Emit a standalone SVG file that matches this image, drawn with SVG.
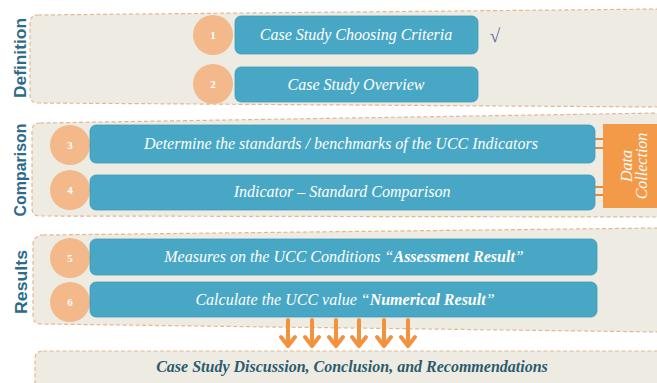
<svg xmlns="http://www.w3.org/2000/svg" width="657" height="383" viewBox="0 0 657 383">
<style>
.panel{fill:#EEEBE3;stroke:#E6B78E;stroke-width:1.2;stroke-dasharray:4 2.5}
.box{fill:#48A7C5;stroke:#3F9CBB;stroke-width:0.8}
.circ{fill:#F3B98B}
.num{font-family:"Liberation Serif",serif;font-weight:bold;font-size:11px;fill:#fff;text-anchor:middle}
.btxt{font-family:"Liberation Serif",serif;font-style:italic;font-size:16px;fill:#fff;text-anchor:middle}
.side{font-family:"Liberation Sans",sans-serif;font-weight:bold;font-size:17px;fill:#2D6B8C;text-anchor:middle}
.arrow{fill:none;stroke:#F2923F;stroke-width:4;stroke-linecap:round;stroke-linejoin:round}
.conn{stroke:#E58A3C;stroke-width:2}
</style>
<rect width="657" height="383" fill="#fff"/>
<g id="panels">
<path class="panel" d="M38,15 L660,9 L660,107 L38,103 Q30,103 30,95 L30,23 Q30,15 38,15 Z"/>
<path class="panel" d="M40,123 L660,113 L660,217 L40,216 Q32,216 32,208 L32,131 Q32,123 40,123 Z"/>
<path class="panel" d="M43,235 L660,228 L660,332 L41,324 Q33,324 33,316 L33,243 Q35,235 43,235 Z"/>
<path class="panel" d="M43,351 L660,351 L660,390 L35,390 L35,359 Q35,351 43,351 Z"/>
</g>
<g id="labels">
<text class="side" transform="translate(26,58) rotate(-90)" textLength="80" lengthAdjust="spacingAndGlyphs">Definition</text>
<text class="side" transform="translate(26,170) rotate(-90)" textLength="93" lengthAdjust="spacingAndGlyphs">Comparison</text>
<text class="side" transform="translate(27,282) rotate(-90)" textLength="64" lengthAdjust="spacingAndGlyphs">Results</text>
</g>
<g id="connectors">
<path class="arrow" d="M288,320 V345 M281,337 L288,346 L295,337"/>
<path class="arrow" d="M312,320 V345 M305,337 L312,346 L319,337"/>
<path class="arrow" d="M336,320 V345 M329,337 L336,346 L343,337"/>
<path class="arrow" d="M359,320 V345 M352,337 L359,346 L366,337"/>
<path class="arrow" d="M384,320 V345 M377,337 L384,346 L391,337"/>
<path class="arrow" d="M408,320 V345 M401,337 L408,346 L415,337"/>
<line class="conn" x1="594" y1="139" x2="604" y2="139"/>
<line class="conn" x1="594" y1="148" x2="604" y2="148"/>
<line class="conn" x1="594" y1="187" x2="604" y2="187"/>
<line class="conn" x1="594" y1="195" x2="604" y2="195"/>
</g>
<g id="n1">
<circle class="circ" cx="213" cy="35" r="20"/>
<text class="num" x="213" y="39">1</text>
<rect class="box" x="235" y="16" width="243" height="38" rx="6"/>
<text class="btxt" x="356" y="40">Case Study Choosing Criteria</text>
</g>
<g id="check">
<text x="495" y="42" font-family="Liberation Serif,serif" font-style="italic" font-size="19" fill="#5B6B98" text-anchor="middle">√</text>
</g>
<g id="n2">
<circle class="circ" cx="213" cy="84" r="20"/>
<text class="num" x="213" y="88">2</text>
<rect class="box" x="235" y="67" width="243" height="35" rx="6"/>
<text class="btxt" x="356" y="90">Case Study Overview</text>
</g>
<g id="n3">
<circle class="circ" cx="70" cy="145" r="20"/>
<text class="num" x="70" y="149">3</text>
<rect class="box" x="90" y="125" width="505" height="38" rx="6"/>
<text class="btxt" x="341" y="149">Determine the standards / benchmarks of the UCC Indicators</text>
</g>
<g id="n4">
<circle class="circ" cx="70" cy="190" r="20"/>
<text class="num" x="70" y="194">4</text>
<rect class="box" x="90" y="175" width="505" height="35" rx="6"/>
<text class="btxt" x="342" y="197">Indicator – Standard Comparison</text>
</g>
<g id="data">
<rect x="603" y="124" width="56" height="84" fill="#F29A47"/>
<text class="btxt" font-size="14" transform="translate(632,166) rotate(-90)"><tspan x="0" y="0">Data</tspan><tspan x="0" y="15">Collection</tspan></text>
</g>
<g id="n5">
<circle class="circ" cx="70" cy="258" r="20"/>
<text class="num" x="70" y="262">5</text>
<rect class="box" x="90" y="239" width="507" height="36" rx="6"/>
<text class="btxt" x="344" y="262">Measures on the UCC Conditions “<tspan font-weight="bold">Assessment Result</tspan>”</text>
</g>
<g id="n6">
<circle class="circ" cx="70" cy="302" r="20"/>
<text class="num" x="70" y="306">6</text>
<rect class="box" x="90" y="282" width="507" height="35" rx="6"/>
<text class="btxt" x="345" y="305">Calculate the UCC value “<tspan font-weight="bold">Numerical Result</tspan>”</text>
</g>
<g id="final">
<text x="352" y="372" font-family="Liberation Serif,serif" font-style="italic" font-weight="bold" font-size="16" fill="#2C5B6E" text-anchor="middle">Case Study Discussion, Conclusion, and Recommendations</text>
</g>
</svg>
